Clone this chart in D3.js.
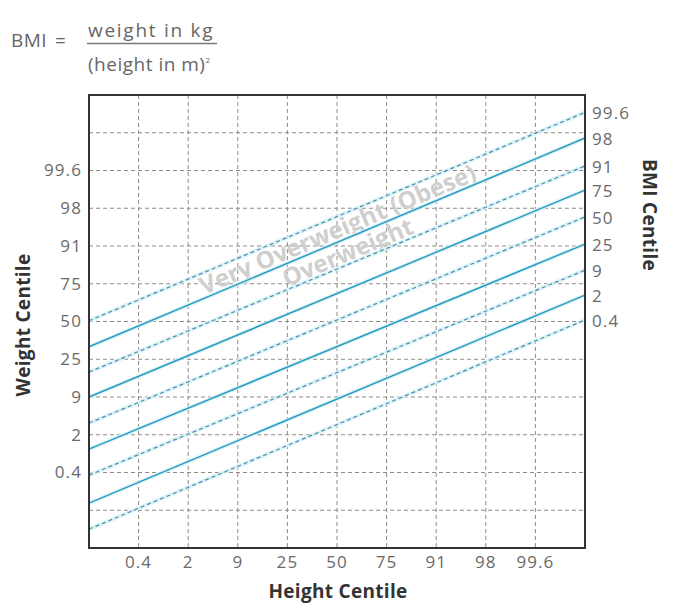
<!DOCTYPE html>
<html><head><meta charset="utf-8">
<script src="https://cdn.jsdelivr.net/npm/d3@7"></script>
<style>
html,body{margin:0;padding:0;background:#fff;}
svg{display:block;font-family:"Open Sans",sans-serif;}
</style></head>
<body>
<svg id="c" width="674" height="612"></svg>
<script>
// ---- data ----
const heightCentiles = ["0.4","2","9","25","50","75","91","98","99.6"];
const weightCentiles = ["0.4","2","9","25","50","75","91","98","99.6"];
const bmiCentiles    = ["0.4","2","9","25","50","75","91","98","99.6"];
// BMI centile line positions, in weight-grid units, at the left (height index 0) and right (height index 10) edges
const bmiLeft  = [0.50, 1.19, 1.93, 2.62, 3.31, 4.00, 4.66, 5.33, 6.02];
const bmiRight = [6.04, 6.70, 7.36, 8.05, 8.77, 9.48, 10.12, 10.86, 11.54];
const bmiDashed = [true, false, true, false, true, false, true, false, true];
const xGrid = [1,2,3,4,5,6,7,8,9];
const yGrid = [1,2,3,4,5,6,7,8,9,10,11];
const weightTickPos = [2,3,4,5,6,7,8,9,10];

const svg = d3.select("#c");
const L=89, R=585, T=95, B=548;
const x = d3.scaleLinear().domain([0,10]).range([L,R]);
const y = d3.scaleLinear().domain([0,12]).range([B,T]);

// formula
const f = svg.append("g").attr("fill","#666").style("font-size","19px").style("letter-spacing","0.5px");
f.append("text").attr("x",11).attr("y",47).text("BMI");
f.append("text").attr("x",55).attr("y",47).text("=");
f.append("text").attr("x",88).attr("y",37).attr("textLength",125).attr("lengthAdjust","spacing").text("weight in kg");
f.append("line").attr("x1",87).attr("x2",217).attr("y1",43.5).attr("y2",43.5).attr("stroke","#777").attr("stroke-width",1.3);
const den = f.append("text").attr("x",88).attr("y",71);
den.append("tspan").text("(height in m)");
den.append("tspan").attr("dy",-8).style("font-size","8px").text("2");

// grid
const grid = svg.append("g").attr("stroke","#8f8a88").attr("stroke-width",1).attr("stroke-dasharray","4,3");
grid.selectAll(".gx").data(xGrid).join("line")
  .attr("x1",d=>x(d)).attr("x2",d=>x(d)).attr("y1",T).attr("y2",B);
grid.selectAll(".gy").data(yGrid).join("line")
  .attr("y1",d=>y(d)).attr("y2",d=>y(d)).attr("x1",L).attr("x2",R);

// watermark labels
const ang = -Math.atan((y(0)-y(bmiRight[0]-bmiLeft[0]))/(x(10)-x(0)))*180/Math.PI;
const wm = svg.append("g").attr("fill","#cfcfcf").style("font-weight","bold").style("font-size","24px").attr("text-anchor","middle");
wm.append("text").attr("transform",`translate(341,237) rotate(${ang})`).text("Very Overweight (Obese)");
wm.append("text").attr("transform",`translate(351,260) rotate(${ang})`).text("Overweight");

// BMI lines
const lines = bmiCentiles.map((c,i)=>({c, l:bmiLeft[i], r:bmiRight[i], dashed:bmiDashed[i]}));
const lg = svg.append("g");
lg.selectAll(".halo").data(lines).join("line")
  .attr("x1",x(0)).attr("x2",x(10)).attr("y1",d=>y(d.l)).attr("y2",d=>y(d.r))
  .attr("stroke","#d6f1f8").attr("stroke-width",4).attr("stroke-opacity",0.8);
lg.selectAll(".bl").data(lines).join("line")
  .attr("x1",x(0)).attr("x2",x(10)).attr("y1",d=>y(d.l)).attr("y2",d=>y(d.r))
  .attr("stroke",d=>d.dashed?"#4b8ea6":"#2b9cbf")
  .attr("stroke-width",d=>d.dashed?1.2:1.5)
  .attr("stroke-dasharray",d=>d.dashed?"4,3":null);

// frame
svg.append("rect").attr("x",L).attr("y",T).attr("width",R-L).attr("height",B-T)
  .attr("fill","none").attr("stroke","#333").attr("stroke-width",2);

// tick labels
const tl = svg.append("g").attr("fill","#6a6a6a").style("font-size","17px").style("letter-spacing","1.1px");
tl.selectAll(".xt").data(heightCentiles).join("text")
  .attr("x",(d,i)=>x(xGrid[i])).attr("y",568).attr("text-anchor","middle").text(d=>d);
tl.selectAll(".yt").data(weightCentiles).join("text")
  .attr("x",82).attr("y",(d,i)=>y(weightTickPos[i])).attr("dy","0.35em").attr("text-anchor","end").text(d=>d);
tl.selectAll(".rt").data(lines).join("text")
  .attr("x",592).attr("y",d=>y(d.r)+1).attr("dy","0.35em").text(d=>d.c);

// axis titles
const at = svg.append("g").attr("fill","#333").style("font-weight","bold").style("font-size","19px").style("letter-spacing","0.3px").attr("text-anchor","middle");
at.append("text").attr("x",338).attr("y",598).text("Height Centile");
at.append("text").attr("transform","translate(30,325) rotate(-90)").text("Weight Centile");
at.append("text").attr("transform","translate(643,215) rotate(90)").text("BMI Centile");
</script>
</body></html>
